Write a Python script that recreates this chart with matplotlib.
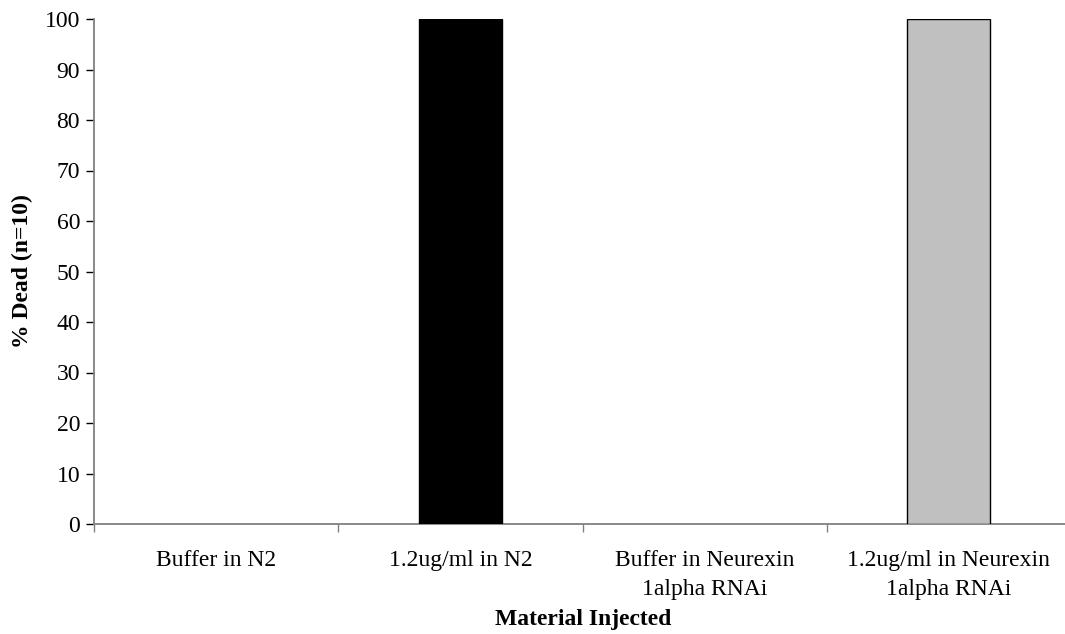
import matplotlib
matplotlib.use("Agg")
import matplotlib.pyplot as plt
import numpy as np

categories = ["Buffer in N2", "1.2ug/ml in N2", "Buffer in Neurexin\n1alpha RNAi",
              "1.2ug/ml in Neurexin\n1alpha RNAi"]
pct_dead = [0, 100, 0, 100]
bar_colors = ["#000000", "#000000", "#C0C0C0", "#C0C0C0"]
y_ticks = list(range(0, 101, 10))

plt.rcParams["font.family"] = ["Liberation Serif", "DejaVu Serif"]

fig = plt.figure(figsize=(10.65, 6.34), dpi=100)
W, H = 1065, 634
left, right, top, bottom = 94, 1071, 19, 524
ax = fig.add_axes([left / W, 1 - bottom / H, (right - left) / W, (bottom - top) / H])

x = np.arange(len(categories)) + 0.5
for xi, v, c in zip(x, pct_dead, bar_colors):
    if v > 0:
        ax.bar(xi, v, width=0.34, color=c, edgecolor="#000000", linewidth=1.0, zorder=3)

ax.set_xlim(0, len(categories))
ax.set_ylim(0, 100)
ax.set_yticks(y_ticks)
ax.set_yticklabels([str(t) for t in y_ticks], fontsize=17)

ax.set_xticks(np.arange(len(categories) + 1))
ax.set_xticklabels([])
ax.set_xticks(x, minor=True)
ax.set_xticklabels(categories, minor=True, fontsize=17, linespacing=1.45)
ax.tick_params(axis="x", which="minor", length=0, pad=19)
ax.tick_params(axis="x", which="major", length=6, width=1, color="#808080", direction="out")
ax.tick_params(axis="y", length=6, width=1, color="#000000", direction="out", pad=4)

for s in ["top", "right"]:
    ax.spines[s].set_visible(False)
for s in ["left", "bottom"]:
    ax.spines[s].set_color("#808080")
    ax.spines[s].set_linewidth(1.3)

ax.set_ylabel("% Dead (n=10)", fontsize=17, fontweight="bold")
ax.yaxis.set_label_coords(-(left - 22) / (right - left), 0.5)
ax.set_xlabel("Material Injected", fontsize=17, fontweight="bold")
ax.xaxis.set_label_coords((583 - left) / (right - left), -(619 - bottom) / (bottom - top))
ax.xaxis.label.set_va("center")
ax.yaxis.label.set_va("center")

fig.savefig("out.png", dpi=100)
